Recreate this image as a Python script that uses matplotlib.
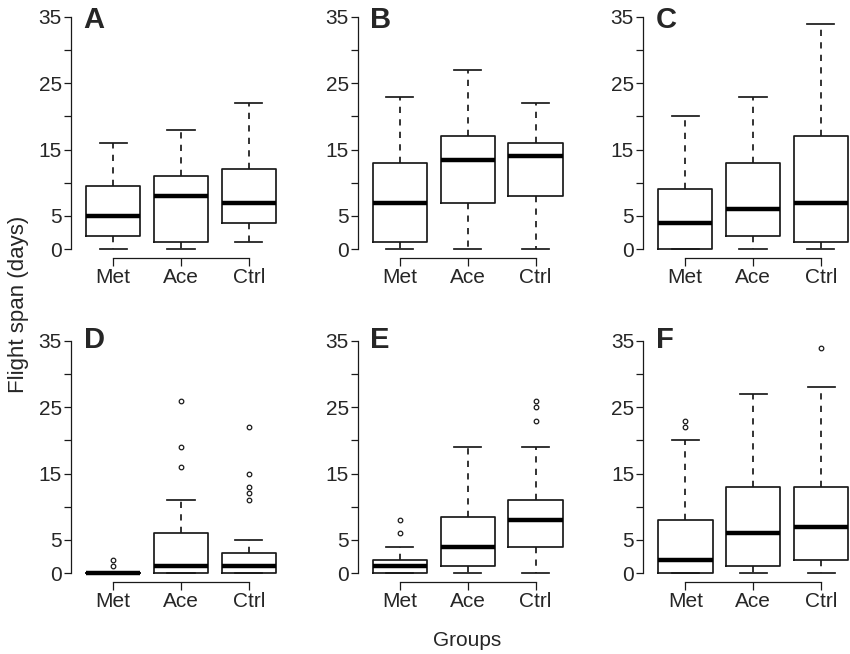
import matplotlib.pyplot as plt

plt.rcParams['font.family'] = ['Liberation Sans', 'DejaVu Sans']

groups = ["Met", "Ace", "Ctrl"]
panel_labels = ["A", "B", "C", "D", "E", "F"]
y_ticks = [0, 5, 10, 15, 20, 25, 30, 35]
y_ticklabels = ["0", "5", "", "15", "", "25", "", "35"]

# per group: [low whisker, Q1, median, Q3, high whisker]  (Met, Ace, Ctrl)
stats_A = [[0, 2, 5, 9.5, 16], [0, 1, 8, 11, 18], [1, 4, 7, 12, 22]]
stats_B = [[0, 1, 7, 13, 23], [0, 7, 13.5, 17, 27], [0, 8, 14, 16, 22]]
stats_C = [[0, 0, 4, 9, 20], [0, 2, 6, 13, 23], [0, 1, 7, 17, 34]]
stats_D = [[0, 0, 0, 0, 0], [0, 0, 1, 6, 11], [0, 0, 1, 3, 5]]
stats_E = [[0, 0, 1, 2, 4], [0, 1, 4, 8.5, 19], [0, 4, 8, 11, 19]]
stats_F = [[0, 0, 2, 8, 20], [0, 1, 6, 13, 27], [0, 2, 7, 13, 28]]

outliers_A = [[], [], []]
outliers_B = [[], [], []]
outliers_C = [[], [], []]
outliers_D = [[1, 2], [16, 19, 26], [11, 12, 13, 15, 22]]
outliers_E = [[6, 8], [], [23, 25, 26]]
outliers_F = [[22, 23], [], [34]]

all_stats = [stats_A, stats_B, stats_C, stats_D, stats_E, stats_F]
all_outliers = [outliers_A, outliers_B, outliers_C, outliers_D, outliers_E, outliers_F]

W, H = 850, 654
fig = plt.figure(figsize=(W / 100, H / 100), dpi=100)

line_col = "#1a1a1a"
text_col = "#262626"

# panel placement in pixels: left spine x, top of axes y
spine_x = [71, 357.7, 643, 71, 357.7, 643.3]
axes_top = [7.7, 7.7, 7.7, 331.7, 331.7, 331.7]
ax_w, ax_h = 220, 250.6

for i in range(6):
    left = spine_x[i] / W
    bottom = 1 - (axes_top[i] + ax_h) / H
    ax = fig.add_axes([left, bottom, ax_w / W, ax_h / H])

    bxp_stats = []
    for g, s in enumerate(all_stats[i]):
        bxp_stats.append({
            "whislo": s[0], "q1": s[1], "med": s[2], "q3": s[3], "whishi": s[4],
            "fliers": all_outliers[i][g], "label": groups[g],
        })

    ax.bxp(bxp_stats, positions=[1, 2, 3], widths=0.8, capwidths=0.4,
           boxprops=dict(color=line_col, linewidth=1.25),
           whiskerprops=dict(color=line_col, linewidth=1.25, linestyle=(0, (3.6, 3.6))),
           capprops=dict(color=line_col, linewidth=1.25),
           medianprops=dict(color="black", linewidth=3.2, solid_capstyle="butt"),
           flierprops=dict(marker="o", markerfacecolor="none", markeredgecolor=line_col,
                           markersize=3.3, markeredgewidth=0.9))

    ax.set_xlim(0.38, 3.62)
    ax.set_ylim(-1.4, 36.4)
    ax.set_yticks(y_ticks)
    ax.set_yticklabels(y_ticklabels)
    ax.set_xticks([1, 2, 3])
    ax.set_xticklabels(groups)
    for side in ["top", "right"]:
        ax.spines[side].set_visible(False)
    ax.spines["left"].set_bounds(0, 35)
    ax.spines["bottom"].set_bounds(1, 3)
    for side in ["left", "bottom"]:
        ax.spines[side].set_color(line_col)
        ax.spines[side].set_linewidth(0.9)
    ax.tick_params(axis="y", length=5, width=0.9, pad=1.5, labelsize=15,
                   color=line_col, labelcolor=text_col)
    ax.tick_params(axis="x", length=5.5, width=0.9, pad=1.2, labelsize=15,
                   color=line_col, labelcolor=text_col)
    ax.patch.set_visible(False)

    base_y = 28 if i < 3 else 347.5
    fig.text((spine_x[i] + 12.5) / W, 1 - base_y / H, panel_labels[i],
             fontsize=21, fontweight="bold", color=text_col, va="baseline", ha="left")

fig.text(19 / W, 1 - 304 / H, "Flight span (days)", rotation=90, fontsize=16,
         color=text_col, ha="center", va="center")
fig.text(467 / W, 1 - 646.5 / H, "Groups", fontsize=15, color=text_col,
         ha="center", va="baseline")

fig.savefig("out.png", dpi=100)
